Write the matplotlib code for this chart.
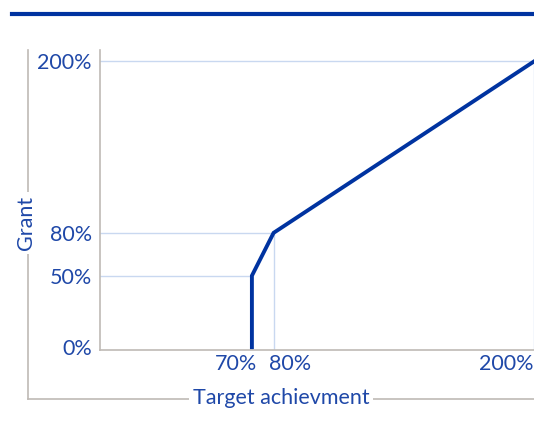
import matplotlib
matplotlib.use("Agg")
import matplotlib.pyplot as plt
from matplotlib.lines import Line2D
from matplotlib.transforms import ScaledTranslation

# data
achievement = [70, 70, 80, 200]   # target achievement, %
grant = [0, 50, 80, 200]          # grant, %
x_ticks = [70, 80, 200]
x_tick_labels = ["70%", "80%", "200%"]
y_ticks = [0, 50, 80, 200]
y_tick_labels = ["0%", "50%", "80%", "200%"]

navy = "#0033a0"
text_blue = "#1f48a8"
grid_blue = "#c9d8f0"
frame_gray = "#bfbab5"
fs = 15.5

plt.rcParams["font.family"] = ["Lato", "DejaVu Sans"]

W, H = 534, 429
fig = plt.figure(figsize=(W / 100, H / 100), dpi=100)

# axes box in pixels: left 100, right 534, top 50, bottom 350
ax = fig.add_axes([100 / W, 1 - 350 / H, 434 / W, 300 / H])
ax.set_xlim(0, 200)
ax.set_ylim(-2, 208)

# drop lines from the curve's corner points back to the axes
for xv, yv in zip(achievement[1:], grant[1:]):
    ax.plot([0, xv], [yv, yv], color=grid_blue, lw=1.0, zorder=1)
    ax.plot([xv, xv], [-2, yv], color=grid_blue, lw=1.0, zorder=1)

ax.plot(achievement, grant, color=navy, lw=2.8, solid_joinstyle="miter",
        clip_on=False, zorder=3)

for side in ["top", "right"]:
    ax.spines[side].set_visible(False)
for side in ["left", "bottom"]:
    ax.spines[side].set_color(frame_gray)
    ax.spines[side].set_linewidth(1.2)

ax.set_xticks(x_ticks)
ax.set_xticklabels(x_tick_labels)
ax.set_yticks(y_ticks)
ax.set_yticklabels(y_tick_labels)
ax.tick_params(length=0, labelsize=fs, labelcolor=text_blue)
ax.tick_params(axis="y", pad=6)
ax.tick_params(axis="x", pad=3)
shifts = [0.05, -0.05, 0.0]  # inches
for lbl, ha, dx in zip(ax.get_xticklabels(), ["right", "left", "right"], shifts):
    lbl.set_ha(ha)
    lbl.set_transform(lbl.get_transform() + ScaledTranslation(dx, 0, fig.dpi_scale_trans))

# outer frame with the axis titles sitting in it
fig.add_artist(Line2D([28 / W, 28 / W], [1 - 50 / H, 1 - 399 / H],
                      color=frame_gray, lw=1.2))
fig.add_artist(Line2D([28 / W, 1], [1 - 399 / H, 1 - 399 / H],
                      color=frame_gray, lw=1.2))
fig.text(281 / W, 1 - 398 / H, "Target achievment", ha="center", va="center",
         fontsize=fs, color=text_blue,
         bbox=dict(facecolor="white", edgecolor="none", pad=3))
fig.text(26 / W, 1 - 223 / H, "Grant", ha="center", va="center", rotation=90,
         fontsize=fs, color=text_blue,
         bbox=dict(facecolor="white", edgecolor="none", pad=3))

# heavy rule across the top
fig.add_artist(Line2D([12 / W, 1], [1 - 14 / H, 1 - 14 / H], color=navy, lw=3.0))

fig.savefig("out.png", dpi=100)
